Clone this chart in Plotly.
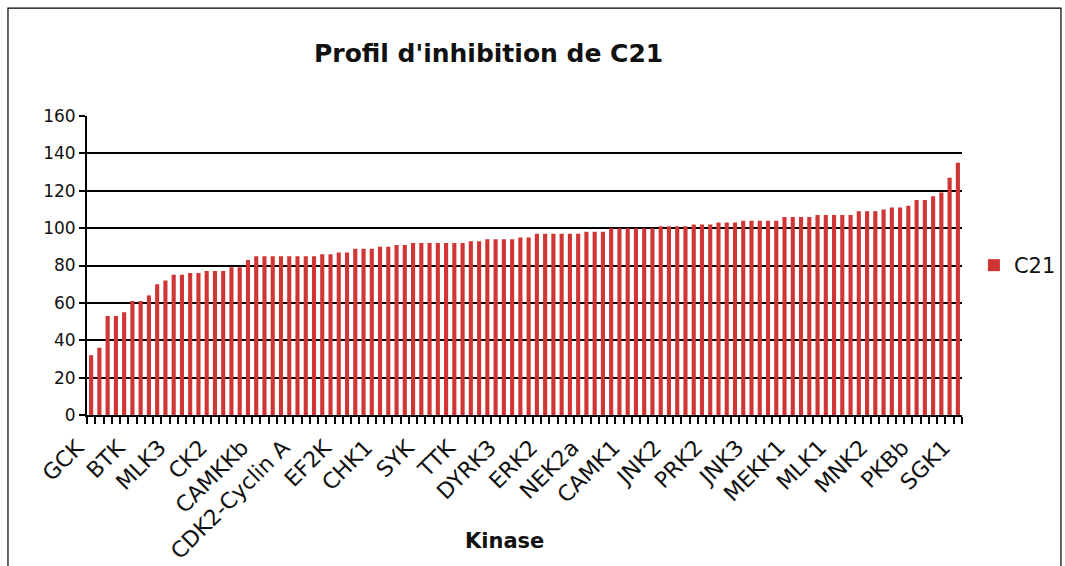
import plotly.graph_objects as go

# Inhibition profile of compound C21 over 106 kinases, sorted ascending
values = [
    32, 36, 53, 53, 55, 61, 61, 64, 70, 72,
    75, 75, 76, 76, 77, 77, 77, 79, 79, 83,
    85, 85, 85, 85, 85, 85, 85, 85, 86, 86,
    87, 87, 89, 89, 89, 90, 90, 91, 91, 92,
    92, 92, 92, 92, 92, 92, 93, 93, 94, 94,
    94, 94, 95, 95, 97, 97, 97, 97, 97, 97,
    98, 98, 98, 100, 100, 100, 100, 100, 100, 101,
    101, 101, 101, 102, 102, 102, 103, 103, 103, 104,
    104, 104, 104, 104, 106, 106, 106, 106, 107, 107,
    107, 107, 107, 109, 109, 109, 110, 111, 111, 112,
    115, 115, 117, 119, 127, 135,
]

# Kinase names shown on the axis (every fifth kinase)
tick_labels = [
    "GCK", "BTK", "MLK3", "CK2", "CAMKKb", "CDK2-Cyclin A", "EF2K", "CHK1",
    "SYK", "TTK", "DYRK3", "ERK2", "NEK2a", "CAMK1", "JNK2", "PRK2", "JNK3",
    "MEKK1", "MLK1", "MNK2", "PKBb", "SGK1",
]
label_step = 5

series_name = "C21"
x_idx = list(range(len(values)))
tick_pos = [i * label_step for i in range(len(tick_labels))]

font_family = "DejaVu Sans, Verdana, sans-serif"

fig = go.Figure()
fig.add_trace(go.Bar(
    x=x_idx,
    y=values,
    name=series_name,
    marker=dict(color="#D03434", line=dict(width=0)),
    showlegend=True,
))

fig.update_layout(
    width=1065,
    height=566,
    margin=dict(l=87, r=103, t=116, b=151, autoexpand=False),
    paper_bgcolor="white",
    plot_bgcolor="white",
    bargap=0.5,
    font=dict(family=font_family, color="#111111", size=17),
    title=dict(
        text="<b>Profil d'inhibition de C21</b>",
        x=0.459, xref="paper", xanchor="center",
        y=0.906, yref="container", yanchor="middle",
        font=dict(size=25, color="#111111", family=font_family),
    ),
    showlegend=True,
    legend=dict(
        x=1.0136, y=0.5, xanchor="left", yanchor="middle",
        font=dict(size=21, color="#111111"),
        bgcolor="rgba(0,0,0,0)",
        itemwidth=30,
    ),
    xaxis=dict(
        range=[-0.5, len(values) - 0.5],
        tickmode="array",
        tickvals=tick_pos,
        ticktext=tick_labels,
        tickangle=-45,
        ticks="",
        ticklen=0,
        tickfont=dict(size=22, color="#111111"),
        ticklabelshift=-14,
        ticklabelstandoff=9,
        showline=True,
        linecolor="black",
        linewidth=2,
        showgrid=False,
        zeroline=False,
        minor=dict(
            tickmode="linear",
            tick0=-0.5,
            dtick=1,
            ticks="outside",
            ticklen=7,
            tickwidth=1.5,
            tickcolor="black",
            showgrid=False,
        ),
    ),
    yaxis=dict(
        range=[0, 160],
        dtick=20,
        tick0=0,
        ticks="outside",
        ticklen=6,
        tickwidth=1.5,
        tickcolor="black",
        tickfont=dict(size=17, color="#111111"),
        showline=True,
        linecolor="black",
        linewidth=2,
        showgrid=True,
        gridcolor="black",
        gridwidth=1.5,
        zeroline=False,
    ),
    annotations=[
        dict(
            text="<b>Kinase</b>",
            x=0.477, y=-0.421, xref="paper", yref="paper",
            xanchor="center", yanchor="middle",
            showarrow=False,
            font=dict(size=21, color="#111111", family=font_family),
        )
    ],
    shapes=[
        dict(
            type="rect",
            xref="paper", yref="paper",
            x0=-0.0903, x1=1.1131, y0=-0.53, y1=1.361,
            line=dict(color="black", width=1.2),
            fillcolor="rgba(0,0,0,0)",
            layer="below",
        )
    ],
)

fig.write_html("out.html")
